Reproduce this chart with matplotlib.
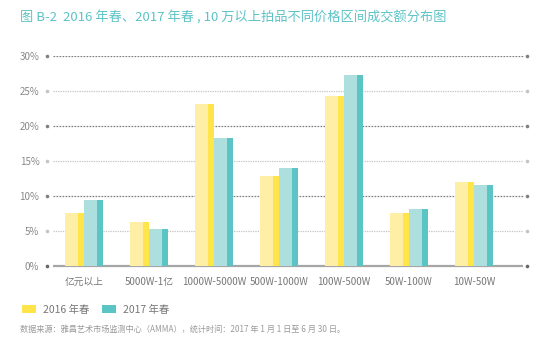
import matplotlib
matplotlib.use("Agg")
import matplotlib.pyplot as plt
from matplotlib.patches import Patch
import numpy as np

plt.rcParams['font.family'] = ['Noto Sans CJK SC', 'DejaVu Sans']

categories = ["亿元以上", "5000W-1亿", "1000W-5000W", "500W-1000W", "100W-500W", "50W-100W", "10W-50W"]
spring_2016 = [7.5, 6.3, 23.1, 12.8, 24.2, 7.5, 11.9]
spring_2017 = [9.4, 5.2, 18.3, 13.9, 27.2, 8.1, 11.6]
series_names = ["2016 年春", "2017 年春"]
yticks = [0, 5, 10, 15, 20, 25, 30]
title = "图 B-2  2016 年春、2017 年春 , 10 万以上拍品不同价格区间成交额分布图"
source = "数据来源：雅昌艺术市场监测中心（AMMA），统计时间：2017 年 1 月 1 日至 6 月 30 日。"

yellow_light, yellow_dark = "#FFEFA6", "#FFE44A"
teal_light, teal_dark = "#AEDFDF", "#5BC5C6"

W, H = 550, 339
fig = plt.figure(figsize=(W / 100, H / 100), dpi=100)

# axes span covers the end dots of the grid lines
ax_l, ax_r = 47, 527
ax_top, ax_bot = 55.7, 265.7
ax = fig.add_axes([ax_l / W, 1 - ax_bot / H, (ax_r - ax_l) / W, (ax_bot - ax_top) / H])

px_per_unit = 65.0
x0_px = 84.0
def to_data(px):
    return (px - x0_px) / px_per_unit

ax.set_xlim(to_data(ax_l), to_data(ax_r))
ax.set_ylim(0, 30)
for s in ax.spines.values():
    s.set_visible(False)

# grid lines with end dots
g_left, g_right = to_data(53), to_data(523)
for v in yticks:
    if v == 0:
        ax.hlines(v, g_left, g_right, color="#A6A6A6", lw=1.6, zorder=1, clip_on=False)
        col = "#666666"
    elif v % 10 == 0:
        col = "#808080"
        ax.hlines(v, g_left, g_right, color=col, lw=0.9, linestyles=(0, (1.4, 1.0)), zorder=1)
    else:
        col = "#C4C4C4"
        ax.hlines(v, g_left, g_right, color=col, lw=0.9, linestyles=(0, (1.0, 0.9)), zorder=1)
    ax.plot([to_data(ax_l), to_data(ax_r)], [v, v], "o", ms=2.6, color=col,
            mec="none", clip_on=False, zorder=3)

# two-tone bars
x = np.arange(len(categories))
bw = 19 / px_per_unit
light_w = 13.4 / px_per_unit
dark_w = bw - light_w
for offset, vals, lc, dc in [(-bw, spring_2016, yellow_light, yellow_dark),
                             (0.0, spring_2017, teal_light, teal_dark)]:
    left = x + offset
    ax.bar(left, vals, width=light_w, align="edge", color=lc, lw=0, zorder=2)
    ax.bar(left + light_w, vals, width=dark_w, align="edge", color=dc, lw=0, zorder=2)

ax.set_yticks(yticks)
ax.set_yticklabels([f"{v}%" for v in yticks], fontsize=7, color="#888888")
ax.tick_params(axis="y", length=0, pad=5.5)
ax.set_xticks(x)
ax.set_xticklabels(categories, fontsize=7, color="#777777")
ax.tick_params(axis="x", length=0, pad=8)

fig.text(20 / W, 1 - 17.5 / H, title, fontsize=9.5, color="#5EC3C6", va="center", ha="left")

handles = [Patch(facecolor=yellow_dark, edgecolor="none"),
           Patch(facecolor=teal_dark, edgecolor="none")]
fig.legend(handles, series_names, loc="center left",
           bbox_to_anchor=(22 / W, 1 - 309.7 / H), ncol=2, frameon=False,
           fontsize=7.5, labelcolor="#777777", handlelength=1.35, handleheight=0.85,
           handletextpad=0.65, columnspacing=1.2, borderpad=0, borderaxespad=0)

fig.text(20 / W, 1 - 329 / H, source, fontsize=5.9, color="#9A9A9A", va="center", ha="left")

fig.savefig("out.png", dpi=100)
